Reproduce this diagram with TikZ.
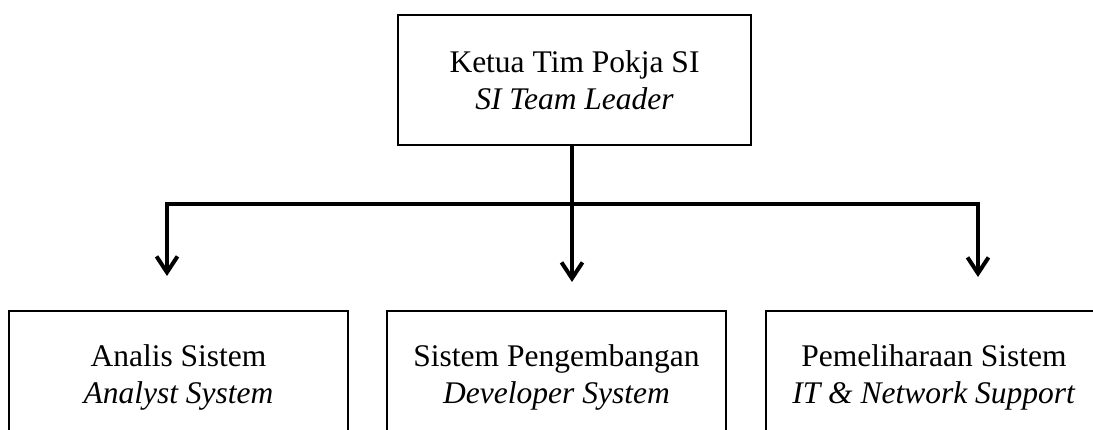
\documentclass[tikz,border=0pt]{standalone}
\usepackage{fontspec}
\setmainfont{Liberation Serif}
\usetikzlibrary{arrows.meta}
\begin{document}
\begin{tikzpicture}[x=1pt,y=-1pt,
  box/.style={draw, line width=1.5pt, inner sep=0pt, align=center,
    font=\fontsize{31.5}{37}\selectfont},
  leadbox/.style={box, minimum width=353pt, minimum height=130pt},
  unitbox/.style={box, minimum width=339pt, minimum height=132pt},
  tipstyle/.style={line width=4pt},
  conn/.style={tipstyle, -{Straight Barb[length=16pt,width=21pt]}},
  bus/.style={tipstyle, {Straight Barb[length=16pt,width=21pt]}-{Straight Barb[length=16pt,width=21pt]}}]
\useasboundingbox (0,0) rectangle (1093,430);

% leader
\node[leadbox] (lead) at (574.5,80) {Ketua Tim Pokja SI\\\textit{SI Team Leader}};

% units
\node[unitbox] (anal) at (178.5,377) {Analis Sistem\\\textit{Analyst System}};
\node[unitbox] (dev)  at (556.5,377) {Sistem Pengembangan\\\textit{Developer System}};
\node[unitbox, minimum width=336pt] (sup) at (934,377) {Pemeliharaan Sistem\\\textit{IT \& Network Support}};

% bus and arrow ends
\coordinate (busL) at (167,204);
\coordinate (busR) at (978,204);
\coordinate (tipL) at (167,276);
\coordinate (tipR) at (978,277);
\coordinate (tipM) at (572,282);

\draw[bus] (tipL) -- (busL) -- (busR) -- (tipR);
\draw[conn] (tipM |- lead.south) -- (tipM);
\end{tikzpicture}
\end{document}
